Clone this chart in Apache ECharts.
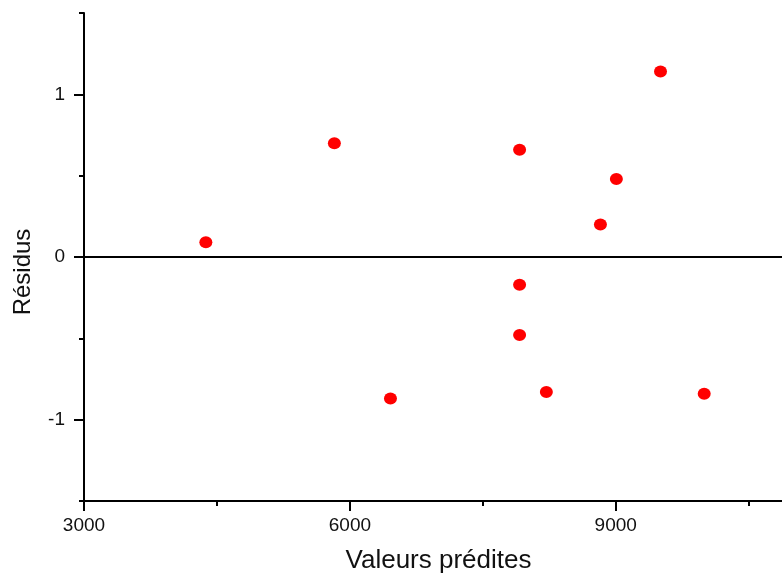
<!DOCTYPE html>
<html>
<head>
<meta charset="utf-8">
<script src="https://cdn.jsdelivr.net/npm/echarts@6/dist/echarts.min.js"></script>
<style>
  html, body { margin: 0; padding: 0; background: #fff; }
  #chart { width: 782px; height: 575px; }
</style>
</head>
<body>
<div id="chart"></div>
<script>
// predicted values vs residuals
const predicted = [4375, 5825, 7915, 7915, 7915, 6458, 8217, 9998, 8827, 9007, 9505];
const residuals = [0.09, 0.70, 0.66, -0.17, -0.48, -0.87, -0.83, -0.84, 0.20, 0.48, 1.14];

const xMajorTicks = [3000, 6000, 9000];
const xMinorTicks = [4500, 7500, 10500];
const yMajorTicks = [-1, 0, 1];
const yMinorTicks = [-1.5, -0.5, 0.5, 1.5];

const chart = echarts.init(document.getElementById('chart'));

const axisLineStyle = { color: '#000', width: 2 };
const labelStyle = { fontFamily: 'Liberation Sans', fontSize: 19, color: '#111' };

const option = {
    animation: false,
    textStyle: { fontFamily: 'Liberation Sans' },
    // the x axis runs past the right edge of the picture
    grid: { left: 84, top: 13, right: -11, bottom: 74, outerBoundsMode: 'none', containLabel: false },
    xAxis: [
        {
            type: 'value',
            min: 3000,
            max: 11000,
            position: 'bottom',
            name: 'Valeurs prédites',
            nameLocation: 'middle',
            nameGap: 47,
            nameTextStyle: { fontSize: 26, color: '#111', fontFamily: 'Liberation Sans' },
            axisLine: { onZero: false, lineStyle: axisLineStyle },
            axisTick: { customValues: xMajorTicks, length: 10, lineStyle: axisLineStyle },
            axisLabel: Object.assign({ customValues: xMajorTicks, margin: 15, formatter: v => String(v) }, labelStyle),
            splitLine: { show: false }
        },
        {
            type: 'value',
            min: 3000,
            max: 11000,
            position: 'bottom',
            axisLine: { show: false, onZero: false },
            axisTick: { customValues: xMinorTicks, length: 5, lineStyle: axisLineStyle },
            axisLabel: { show: false },
            splitLine: { show: false }
        }
    ],
    yAxis: [
        {
            type: 'value',
            min: -1.5,
            max: 1.5,
            position: 'left',
            name: 'Résidus',
            nameLocation: 'middle',
            nameGap: 49,
            nameTextStyle: { fontSize: 24, color: '#111', fontFamily: 'Liberation Sans', padding: [0, 30, 0, 0] },
            axisLine: { show: true, onZero: false, lineStyle: axisLineStyle },
            axisTick: { show: true, customValues: yMajorTicks, length: 10, lineStyle: axisLineStyle },
            axisLabel: Object.assign({ customValues: yMajorTicks, margin: 19 }, labelStyle),
            splitLine: { show: false }
        },
        {
            type: 'value',
            min: -1.5,
            max: 1.5,
            position: 'left',
            axisLine: { show: false, onZero: false },
            axisTick: { show: true, customValues: yMinorTicks, length: 5, lineStyle: axisLineStyle },
            axisLabel: { show: false },
            splitLine: { show: false }
        }
    ],
    series: [
        {
            type: 'scatter',
            xAxisIndex: 0,
            yAxisIndex: 0,
            data: predicted.map((x, i) => [x, residuals[i]]),
            symbol: 'circle',
            symbolSize: [13, 12],
            itemStyle: { color: '#ff0000', opacity: 1 },
            markLine: {
                silent: true,
                symbol: 'none',
                label: { show: false },
                lineStyle: { color: '#000', width: 2, type: 'solid' },
                data: [{ yAxis: 0 }]
            }
        }
    ]
};

chart.setOption(option);
</script>
</body>
</html>
